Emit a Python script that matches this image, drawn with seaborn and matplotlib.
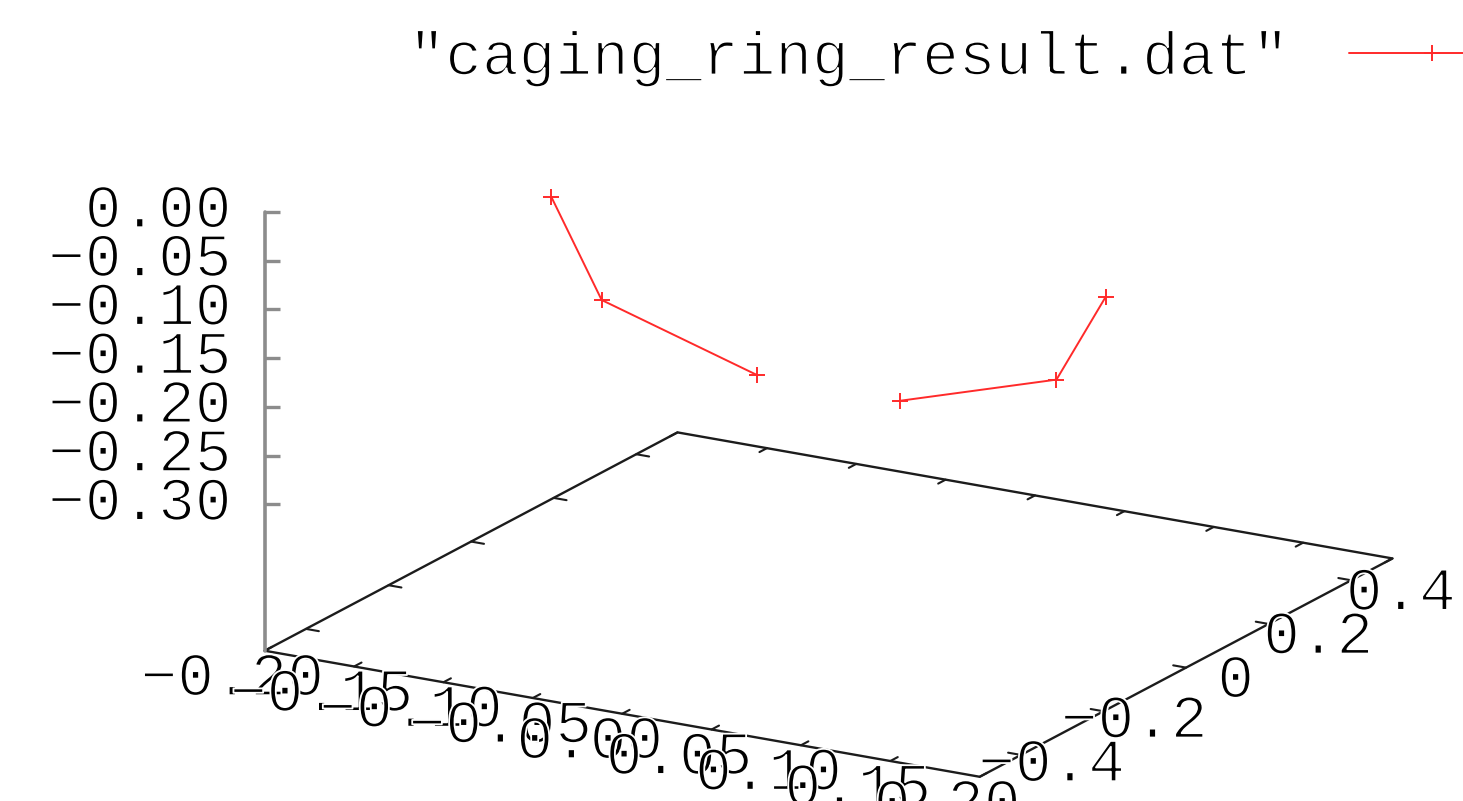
import matplotlib
matplotlib.use("Agg")
import matplotlib.pyplot as plt
from matplotlib.lines import Line2D
from matplotlib.markers import TICKRIGHT
from matplotlib import patheffects
import seaborn as sns

# ring samples (x, y, z); a blank line in the data file splits the ring in two blocks
ring_x = [-0.169, -0.066, 0.059, 0.139, 0.188, 0.143]
ring_y = [0.060, -0.264, -0.428, -0.430, -0.262, 0.052]
ring_z = [-0.10, -0.10, -0.10, -0.10, -0.10, -0.10]
ring_block = [0, 0, 0, 1, 1, 1]

x_ticks = [-0.20, -0.15, -0.10, -0.05, 0.00, 0.05, 0.10, 0.15, 0.20]
x_labels = ["−0.20", "−0.15", "−0.10", "−0.05", "0.00", "0.05", "0.10", "0.15", "0.20"]
y_ticks = [-0.4, -0.2, 0.0, 0.2, 0.4]
y_labels = ["−0.4", "−0.2", "0", "0.2", "0.4"]
z_ticks = [0.00, -0.05, -0.10, -0.15, -0.20, -0.25, -0.30]
z_labels = ["0.00", "−0.05", "−0.10", "−0.15", "−0.20", "−0.25", "−0.30"]

x_range = (-0.2, 0.2)
y_range = (-0.5, 0.5)
z_range = (-0.30, 0.00)
ticslevel = 0.5
legend_label = '"caging_ring_result.dat"'

RED = "#ff2a2a"
BORDER = "#1c1c1c"
ZAXIS = "#8c8c8c"
FS = 44

sns.set_style("white")
plt.rcParams["font.family"] = ["Liberation Mono", "DejaVu Sans"]
plt.rcParams["text.color"] = "black"

# thin, typewriter-like strokes: erode the glyph outlines slightly with a white stroke
thin = [patheffects.Normal(), patheffects.Stroke(linewidth=1.3, foreground="white")]

W, H = 1463, 801
fig = plt.figure(figsize=(W / 100, H / 100), dpi=100)

# square 3D panel, orthographic view like gnuplot's "set view 60,30" seen on a wide canvas
zoom = 0.8
side = 1218.58 / zoom
centre = (828.6, 415.9)
half = 0.095 / 0.185 * side
ax = fig.add_axes([(centre[0] - half) / W, (centre[1] - half) / H, side / W, side / H],
                  projection="3d")
ax.set_proj_type("ortho")
ax.view_init(elev=17.78, azim=-60)
ax.set_box_aspect((825.6, 825.6, 461.0), zoom=zoom)

x0, x1 = x_range
y0, y1 = y_range
zb = z_range[0] - ticslevel * (z_range[1] - z_range[0])
ax.set_xlim(x0, x1)
ax.set_ylim(y0, y1)
ax.set_zlim(zb, z_range[1])
ax.set_axis_off()

# base plane border
ax.plot([x0, x1, x1, x0, x0], [y0, y0, y1, y1, y0], [zb] * 5, color=BORDER, lw=1.7)

# tick marks on the base plane (mirrored on the opposite edges)
tl = 0.018
tick_kw = dict(color=BORDER, lw=1.5)
for xt in x_ticks:
    ax.plot([xt, xt], [y0, y0 + tl * (y1 - y0)], [zb, zb], **tick_kw)
    ax.plot([xt, xt], [y1, y1 - tl * (y1 - y0)], [zb, zb], **tick_kw)
for yt in y_ticks:
    ax.plot([x1, x1 - tl * (x1 - x0)], [yt, yt], [zb, zb], **tick_kw)
    ax.plot([x0, x0 + tl * (x1 - x0)], [yt, yt], [zb, zb], **tick_kw)

# vertical z axis at the left corner
ax.plot([x0, x0], [y0, y0], [zb, z_range[1]], color=ZAXIS, lw=2.6)
ax.plot([x0] * len(z_ticks), [y0] * len(z_ticks), z_ticks, ls="none",
        marker=TICKRIGHT, ms=11, mew=2.4, color=ZAXIS)

# tick labels
txt_kw = dict(fontsize=FS, color="black", path_effects=thin)
for xt, lab in zip(x_ticks, x_labels):
    ax.text(xt, y0 - 0.0789, zb - 0.0120, lab, ha="center", va="center", **txt_kw)
for yt, lab in zip(y_ticks, y_labels):
    dx = 0.0171 if lab.startswith("−") else 0.0277
    ax.text(x1 + dx, yt, zb - 0.0055, lab, ha="center", va="center", **txt_kw)
for zt, lab in zip(z_ticks, z_labels):
    ax.text(x0 - 0.01405, y0 - 0.0202, zt, lab, ha="right", va="center", **txt_kw)

# data
line_kw = dict(color=RED, lw=1.4, marker="+", ms=12, mew=1.4)
for blk in sorted(set(ring_block)):
    idx = [i for i, b in enumerate(ring_block) if b == blk]
    ax.plot([ring_x[i] for i in idx], [ring_y[i] for i in idx], [ring_z[i] for i in idx],
            **line_kw)

handle = Line2D([], [], **line_kw)
leg = fig.legend([handle], [legend_label], loc="center right",
                 bbox_to_anchor=(1515 / W, 1 - 59 / H), frameon=False, markerfirst=False,
                 handlelength=2.72, handletextpad=1.0, borderpad=0, borderaxespad=0,
                 fontsize=FS, numpoints=1)
for t in leg.get_texts():
    t.set_color("black")
    t.set_path_effects(thin)

fig.savefig("out.png", dpi=100)
